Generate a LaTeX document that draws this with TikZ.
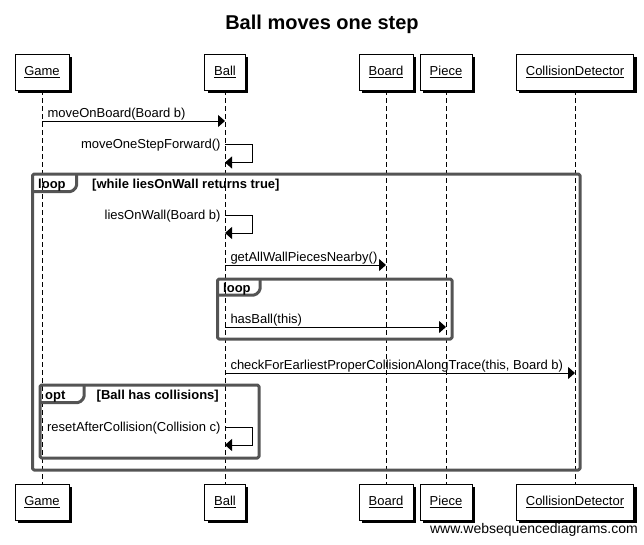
\documentclass[tikz,border=0pt]{standalone}
\usepackage{fontspec}
\setmainfont{Liberation Sans}
\usetikzlibrary{arrows.meta,shadows}

\begin{document}
\begin{tikzpicture}[x=1pt, y=-1pt,
        actor/.style={draw, fill=white, minimum height=36pt, inner xsep=9.5pt,
            font=\fontsize{13}{15}\selectfont,
            drop shadow={shadow xshift=3pt, shadow yshift=-3pt, fill=black, opacity=1}},
        lifeline/.style={dash pattern=on 5pt off 3pt, line width=0.8pt},
        msg/.style={-{Triangle[length=7pt, width=12pt]}, line width=1pt},
        msglabel/.style={font=\fontsize{13}{15}\selectfont, inner sep=0pt},
        frame/.style={draw=black!67, line width=3pt, line join=round, rounded corners=1.5pt},
        framelabel/.style={font=\bfseries\fontsize{13}{15}\selectfont, inner sep=0pt}]
    \useasboundingbox (0,0) rectangle (644,544);

    \node[font=\bfseries\fontsize{20}{24}\selectfont, anchor=base] (title) at (322, 29) {Ball moves one step};

    \node[actor] (Game)     at (42, 72)  {\underline{Game}};
    \node[actor] (Ball)     at (225, 72) {\underline{Ball}};
    \node[actor] (Board)    at (386, 72) {\underline{Board}};
    \node[actor] (Piece)    at (446, 72) {\underline{Piece}};
    \node[actor] (Detector) at (575, 72) {\underline{CollisionDetector}};
    \node[actor] (GameB)     at (42, 502)  {\underline{Game}};
    \node[actor] (BallB)     at (225, 502) {\underline{Ball}};
    \node[actor] (BoardB)    at (386, 502) {\underline{Board}};
    \node[actor] (PieceB)    at (446, 502) {\underline{Piece}};
    \node[actor] (DetectorB) at (575, 502) {\underline{CollisionDetector}};

    \path[lifeline]
        (Game) edge (GameB)
        (Ball) edge (BallB)
        (Board) edge (BoardB)
        (Piece) edge (PieceB)
        (Detector) edge (DetectorB);

    \draw[frame] (32.5, 174) rectangle (580, 470);
    \draw[frame] (32.5, 191.5) -- (72, 191.5) -- (76.5, 187) -- (76.5, 174);
    \node[framelabel, anchor=base west] (loopA) at (38, 188) {loop};
    \node[framelabel, anchor=base west] (condA) at (92, 188) {[while liesOnWall returns true]};

    \draw[frame] (217.5, 279) rectangle (452, 339);
    \draw[frame] (217.5, 295) -- (255.5, 295) -- (260, 290.5) -- (260, 279);
    \node[framelabel, anchor=base west] (loopB) at (223, 292) {loop};

    \draw[frame] (40, 385) rectangle (259, 458);
    \draw[frame] (40, 402.5) -- (79.5, 402.5) -- (84, 398) -- (84, 385);
    \node[framelabel, anchor=base west] (optC) at (45, 399) {opt};
    \node[framelabel, anchor=base east] (condC) at (219, 399) {[Ball has collisions]};

    \path[msg]
        (Game |- 0,121) edge node[msglabel, pos=0, anchor=base west, xshift=5pt, yshift=4pt] {moveOnBoard(Board b)} (Ball |- 0,121)
        (Ball |- 0,265) edge node[msglabel, pos=0, anchor=base west, xshift=5pt, yshift=4pt] {getAllWallPiecesNearby()} (Board |- 0,265)
        (Ball |- 0,327) edge node[msglabel, pos=0, anchor=base west, xshift=5pt, yshift=4pt] {hasBall(this)} (Piece |- 0,327)
        (Ball |- 0,373) edge node[msglabel, pos=0, anchor=base west, xshift=5pt, yshift=4pt] {checkForEarliestProperCollisionAlongTrace(this, Board b)} (Detector |- 0,373);

    \draw[msg] (Ball |- 0,144.5) node[msglabel, anchor=base east, xshift=-4pt, yshift=-4pt] {moveOneStepForward()}
        -- ++(27,0) -- ++(0,18) -- (Ball |- 0,162.5);
    \draw[msg] (Ball |- 0,215) node[msglabel, anchor=base east, xshift=-4pt, yshift=-4pt] {liesOnWall(Board b)}
        -- ++(27,0) -- ++(0,18) -- (Ball |- 0,233);
    \draw[msg] (Ball |- 0,427) node[msglabel, anchor=base east, xshift=-4pt, yshift=-4pt] {resetAfterCollision(Collision c)}
        -- ++(27,0) -- ++(0,18) -- (Ball |- 0,445);

    \node[font=\fontsize{14}{16}\selectfont, anchor=base east, inner sep=0pt] (site) at (638, 533) {www.websequencediagrams.com};
\end{tikzpicture}
\end{document}
